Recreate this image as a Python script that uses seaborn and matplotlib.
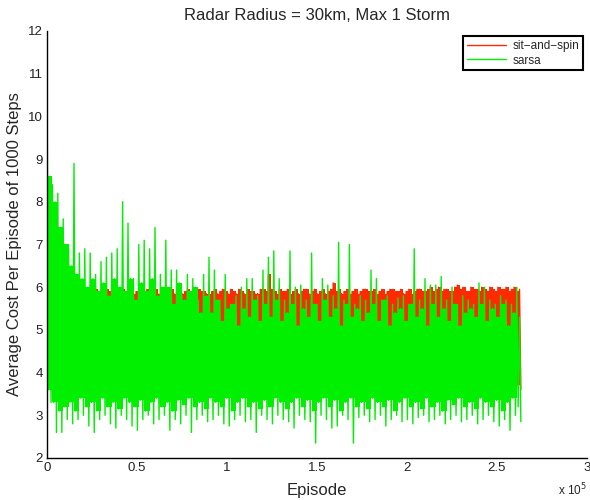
import numpy as np
import pandas as pd
import matplotlib
matplotlib.use("Agg")
import matplotlib.pyplot as plt
import seaborn as sns

# Per-block summaries of the average cost (one block = 3000 episodes).
# Each block is drawn as a burst of four samples so the trace looks as dense as the run.
BLOCK = 3000

sarsa_peak = [11.3, 8.4, 8.2, 7.6, 6.9, 8.9, 6.8, 6.9, 6.8, 6.3,
              6.6, 6.7, 6.8, 6.9, 8.0, 7.5, 6.2, 7.0, 7.1, 6.9,
              7.4, 6.3, 7.1, 6.4, 6.4, 5.8, 6.3, 6.2, 5.7, 6.3,
              6.7, 6.4, 5.7, 6.3, 5.6, 5.8, 6.0, 6.2, 6.2, 5.8,
              6.4, 6.7, 6.85, 6.2, 5.7, 6.85, 6.0, 6.05, 5.7, 6.8,
              5.6, 6.2, 6.05, 5.8, 7.05, 5.7, 7.0, 5.6, 5.8, 5.7,
              6.4, 6.2, 5.7, 5.8, 5.6, 5.75, 5.8, 5.6, 6.9, 5.7,
              6.2, 6.05, 6.05, 6.25, 5.7, 6.0, 5.6, 5.8, 5.7, 5.6,
              6.1, 6.0, 5.7, 5.6, 5.8, 5.7, 5.6, 6.0]
sarsa_upper = [8.6, 8.0, 7.4, 7.0, 6.5, 6.3, 6.2, 6.0, 6.2, 5.9,
               6.1, 5.8, 6.2, 6.0, 5.9, 6.2, 5.7, 6.1, 5.9, 6.2,
               5.8, 6.0, 6.0, 5.6, 6.1, 5.7, 5.9, 6.0, 5.4, 5.8,
               5.4, 5.7, 5.2, 5.5, 5.6, 5.1, 5.5, 5.3, 5.7, 5.2,
               5.6, 5.3, 5.7, 5.2, 5.4, 5.6, 5.1, 5.5, 5.3, 5.6,
               5.2, 5.7, 5.3, 5.5, 5.1, 5.6, 5.3, 5.5, 5.2, 5.4,
               5.6, 5.2, 5.7, 5.1, 5.4, 5.5, 5.2, 5.6, 5.3, 5.5,
               5.1, 5.6, 5.3, 5.5, 5.2, 5.6, 5.1, 5.4, 5.5, 5.3,
               5.6, 5.2, 5.5, 5.3, 5.6, 5.1, 5.4, 5.3]
sarsa_lower = [3.6, 3.3, 3.1, 3.2, 3.3, 3.1, 3.4, 3.2, 3.3, 3.1,
               3.4, 3.2, 3.3, 3.15, 3.4, 3.3, 3.2, 3.35, 3.1, 3.3,
               3.4, 3.2, 3.3, 3.1, 3.35, 3.25, 3.4, 3.2, 3.3, 3.15,
               3.4, 3.3, 3.2, 3.4, 3.1, 3.3, 3.4, 3.2, 3.3, 3.15,
               3.35, 3.2, 3.4, 3.3, 3.15, 3.3, 3.4, 3.2, 3.35, 3.1,
               3.3, 3.4, 3.2, 3.35, 3.1, 3.3, 3.4, 3.2, 3.3, 3.15,
               3.4, 3.3, 3.2, 3.35, 3.1, 3.3, 3.4, 3.2, 3.3, 3.15,
               3.4, 3.2, 3.3, 3.1, 3.35, 3.25, 3.4, 3.2, 3.3, 3.15,
               3.4, 3.3, 3.2, 3.35, 3.1, 3.3, 3.4, 3.2]
sarsa_trough = [3.3, 2.6, 2.6, 2.9, 2.8, 2.9, 3.0, 2.75, 2.6, 2.9,
                3.0, 2.8, 2.7, 3.0, 2.9, 2.75, 2.65, 2.9, 3.0, 2.8,
                2.9, 3.0, 2.65, 2.9, 2.8, 3.0, 2.6, 2.9, 3.0, 2.85,
                2.9, 3.0, 2.8, 2.75, 2.9, 3.0, 2.85, 2.9, 2.6, 3.0,
                2.9, 2.8, 3.0, 2.9, 2.85, 2.7, 3.0, 2.9, 2.85, 2.35,
                3.0, 2.9, 2.7, 2.75, 3.0, 2.9, 2.35, 2.95, 3.0, 2.85,
                2.9, 3.0, 2.75, 2.9, 3.0, 2.85, 2.9, 2.8, 2.95, 3.0,
                2.85, 2.9, 3.0, 2.8, 2.9, 3.0, 2.85, 2.9, 3.0, 2.8,
                2.9, 3.0, 2.85, 2.75, 2.9, 2.65, 3.0, 2.85]

spin_peak_a = [5.9, 5.85, 5.9, 5.95, 5.9, 5.85, 5.95, 5.9, 5.8, 5.95,
               5.9, 5.95, 5.85, 5.9, 5.95, 5.9, 5.85, 5.95, 5.9, 5.9,
               5.95, 5.85, 5.9, 5.95, 5.9, 5.85, 5.95, 5.9, 5.95, 5.9,
               5.85, 5.95, 5.9, 5.9, 5.95, 5.85, 5.9, 5.95, 5.9, 5.85,
               5.95, 6.3, 5.9, 5.95, 5.9, 5.85, 5.95, 5.9, 5.95, 5.9,
               5.85, 5.95, 5.9, 6.1, 5.95, 5.9, 5.85, 5.95, 5.9, 5.95,
               5.9, 5.85, 5.95, 5.9, 5.95, 5.9, 5.85, 5.95, 5.9, 5.95,
               5.9, 6.0, 5.95, 5.9, 5.95, 5.9, 6.05, 6.0, 5.9, 5.95,
               5.9, 5.95, 6.0, 5.9, 5.95, 6.0, 5.95, 5.9]
spin_peak_b = [5.85, 5.9, 5.95, 5.85, 5.95, 5.9, 5.85, 5.95, 5.9, 5.85,
               5.95, 5.9, 5.9, 5.95, 5.85, 5.95, 5.9, 5.85, 5.95, 5.9,
               5.85, 5.9, 5.95, 5.85, 5.95, 5.9, 5.85, 5.95, 5.9, 5.85,
               5.9, 5.85, 5.95, 5.85, 5.9, 5.95, 5.85, 5.9, 5.85, 5.95,
               5.9, 5.95, 5.85, 5.9, 5.95, 5.9, 5.85, 5.95, 5.85, 5.95,
               5.9, 5.85, 5.95, 5.9, 5.85, 5.95, 5.9, 5.85, 5.95, 5.9,
               5.95, 5.9, 5.85, 5.95, 5.9, 5.95, 5.9, 5.85, 5.95, 5.9,
               5.95, 5.9, 6.0, 5.95, 5.9, 6.0, 5.95, 5.9, 6.0, 5.95,
               6.0, 5.9, 5.95, 6.0, 5.95, 5.9, 6.0, 5.95]
spin_dip_a = [3.7, 3.6, 3.8, 3.5, 3.7, 3.6, 3.8, 3.7, 3.5, 3.6,
              3.8, 3.7, 3.6, 3.5, 3.7, 3.8, 3.6, 3.7, 3.5, 3.6,
              3.7, 3.8, 3.6, 3.5, 3.7, 3.6, 3.8, 3.7, 3.5, 3.6,
              3.8, 3.7, 3.6, 3.5, 3.7, 3.8, 3.6, 3.7, 3.5, 3.6,
              3.7, 3.8, 3.6, 3.5, 3.7, 3.6, 3.8, 3.7, 3.5, 3.6,
              3.8, 3.7, 3.6, 3.5, 3.7, 3.8, 3.6, 3.7, 3.5, 3.6,
              3.7, 3.8, 3.6, 3.5, 3.7, 3.6, 3.8, 3.7, 3.5, 3.6,
              3.8, 3.7, 3.6, 3.5, 3.7, 3.8, 3.6, 3.7, 3.5, 3.6,
              3.7, 3.8, 3.6, 3.5, 3.7, 3.6, 3.8, 3.7]
spin_dip_b = [3.6, 3.8, 3.7, 3.6, 3.5, 3.8, 3.7, 3.6, 3.8, 3.5,
              3.6, 3.7, 3.8, 3.6, 3.5, 3.7, 3.8, 3.6, 3.7, 3.5,
              3.6, 3.7, 3.8, 3.6, 3.5, 3.7, 3.8, 3.6, 3.7, 3.5,
              3.6, 3.8, 3.7, 3.6, 3.5, 3.8, 3.7, 3.6, 3.8, 3.5,
              3.6, 3.7, 3.8, 3.6, 3.5, 3.7, 3.8, 3.6, 3.7, 3.5,
              3.6, 3.7, 3.8, 3.6, 3.5, 3.7, 3.8, 3.6, 3.7, 3.5,
              3.6, 3.8, 3.7, 3.6, 3.5, 3.8, 3.7, 3.6, 3.8, 3.5,
              3.6, 3.7, 3.8, 3.6, 3.5, 3.7, 3.8, 3.6, 3.7, 3.5,
              3.6, 3.7, 3.8, 3.6, 3.5, 3.7, 3.8, 3.6]

x_ticks = [0, 50000, 100000, 150000, 200000, 250000, 300000]
x_tick_labels = ["0", "0.5", "1", "1.5", "2", "2.5", "3"]
y_ticks = list(range(2, 13))

RED = "#ff2a00"
GREEN = "#00f000"


def burst(*columns):
    """Interleave the per-block columns into one dense trace."""
    values = np.column_stack(columns).ravel()
    per_block = len(columns)
    episodes = np.arange(values.size) * (BLOCK // per_block) + 1
    return pd.DataFrame({"Episode": episodes, "Cost": values})


spin = burst(spin_peak_a, spin_dip_a, spin_peak_b, spin_dip_b)
sarsa = burst(sarsa_peak, sarsa_lower, sarsa_upper, sarsa_trough)

# Bulk of each trace: the band that the dense run sweeps out in every block
spin_tops = burst(spin_peak_a, spin_peak_b)
spin_bottoms = burst(spin_dip_a, spin_dip_b)
sarsa_blocks = np.arange(len(sarsa_upper)) * BLOCK + 1

sns.set_theme(style="white")
plt.rcParams["font.family"] = ["Liberation Sans", "DejaVu Sans"]
plt.rcParams["path.simplify"] = False

fig = plt.figure(figsize=(5.9, 5.0), dpi=100)
ax = fig.add_axes([47 / 590, 42 / 500, 540 / 590, 427 / 500])

sns.lineplot(data=spin, x="Episode", y="Cost", ax=ax, color=RED,
             lw=1.0, sort=False, estimator=None, label="sit\u2212and\u2212spin",
             zorder=2.0)
ax.fill_between(spin_tops["Episode"], spin_bottoms["Cost"], spin_tops["Cost"],
                step="post", color=RED, lw=0, zorder=2.1)
sns.lineplot(data=sarsa, x="Episode", y="Cost", ax=ax, color=GREEN,
             lw=1.0, sort=False, estimator=None, label="sarsa", zorder=2.2)
ax.fill_between(sarsa_blocks, sarsa_lower, sarsa_upper,
                step="post", color=GREEN, lw=0, zorder=2.3)

ax.set_xlim(0, 300000)
ax.set_ylim(2, 12)
ax.set_xticks(x_ticks)
ax.set_xticklabels(x_tick_labels)
ax.set_yticks(y_ticks)

for side in ("top", "right"):
    ax.spines[side].set_visible(False)
for side in ("left", "bottom"):
    ax.spines[side].set_color("black")
    ax.spines[side].set_linewidth(1.0)
    ax.spines[side].set_zorder(3)
ax.tick_params(direction="in", length=4, width=0.8, colors="#222222",
               labelsize=9.5, pad=3)

ax.set_title("Radar Radius = 30km, Max 1 Storm", fontsize=12, pad=8)
ax.set_xlabel("Episode", fontsize=12, labelpad=6)
ax.set_ylabel("Average Cost Per Episode of 1000 Steps", fontsize=12, labelpad=4)
ax.text(1.0, -0.056, "x 10$^5$", transform=ax.transAxes, ha="right",
        va="top", fontsize=8.5)

leg = ax.legend(loc="upper right", bbox_to_anchor=(0.993, 0.988),
                borderaxespad=0, fontsize=8.5, handlelength=3.3,
                handletextpad=0.6, borderpad=0.3, labelspacing=0.25,
                fancybox=False, framealpha=1)
leg.get_frame().set_edgecolor("black")
leg.get_frame().set_linewidth(1.5)
leg.set_zorder(5)

fig.savefig("out.png", dpi=100)
